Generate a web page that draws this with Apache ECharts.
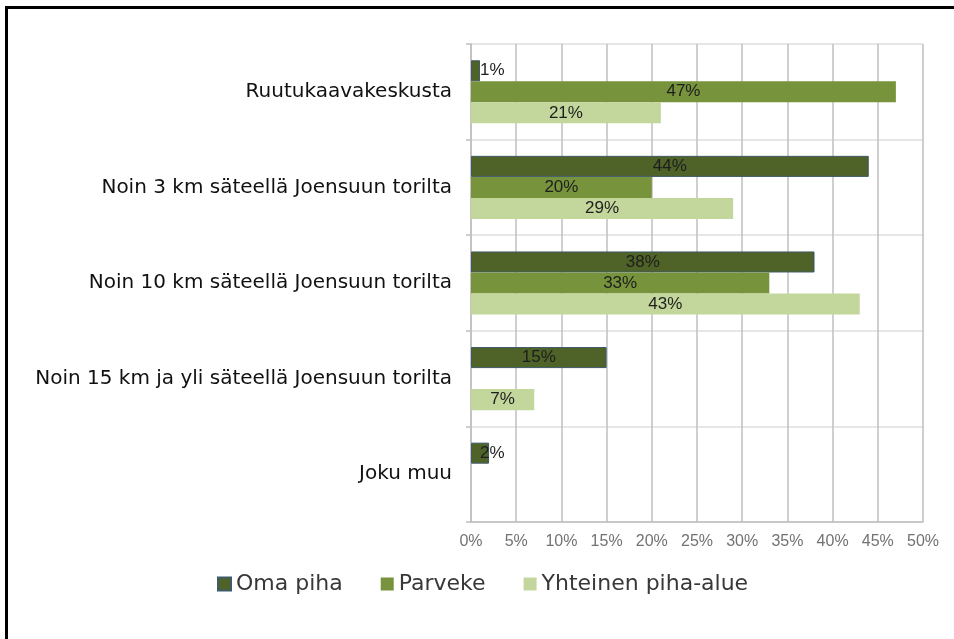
<!DOCTYPE html>
<html>
<head>
<meta charset="utf-8">
<script src="https://cdn.jsdelivr.net/npm/echarts@6/dist/echarts.min.js"></script>
<style>
  html, body { margin: 0; padding: 0; background: #fff; }
  #frame { position: absolute; left: 5px; top: 6px; width: 960px; height: 640px;
           border-left: 3px solid #000; border-top: 3px solid #000; }
  #chart { position: absolute; left: 0; top: 0; width: 954px; height: 639px; }
</style>
</head>
<body>
<div id="frame"></div>
<div id="chart"></div>
<script>
// alueet ylhäältä alas
const categories = [
  'Ruutukaavakeskusta',
  'Noin 3 km säteellä Joensuun torilta',
  'Noin 10 km säteellä Joensuun torilta',
  'Noin 15 km ja yli säteellä Joensuun torilta',
  'Joku muu'
];
const omaPiha = [1, 44, 38, 15, 2];
const parveke = [47, 20, 33, null, null];
const yhteinen = [21, 29, 43, 7, null];
const xTicks = [0, 5, 10, 15, 20, 25, 30, 35, 40, 45, 50];

const colors = ['#4f6228', '#77933c', '#c3d69b'];
const wideFont = 'DejaVu Sans, sans-serif';
const arial = 'Liberation Sans, Arial, sans-serif';

// pienet arvot: label alkaa palkin vasemmasta reunasta
function toData(arr) {
  return arr.map(v => {
    if (v == null) return '-';
    if (v < 5) return { value: v, label: { position: 'insideLeft', distance: 9 } };
    return v;
  });
}

function makeSeries(name, arr, idx) {
  return {
    name: name,
    type: 'bar',
    data: toData(arr),
    barGap: '0%',
    barCategoryGap: '34%',
    itemStyle: idx === 0 ? { color: colors[idx], borderColor: '#3f5a6a', borderWidth: 1 } : { color: colors[idx] },
    label: {
      show: true,
      position: 'inside',
      formatter: '{c}%',
      color: '#1e1e1e',
      fontFamily: arial,
      fontSize: 17
    }
  };
}

const chart = echarts.init(document.getElementById('chart'));
const option = {
  animation: false,
  grid: { left: 471, right: 31, top: 44, bottom: 117, containLabel: false },
  legend: {
    left: 212,
    top: 568,
    itemWidth: 13,
    itemHeight: 13,
    itemGap: 38,
    icon: 'rect',
    textStyle: { color: '#383838', fontSize: 22, fontFamily: wideFont },
    data: ['Oma piha', 'Parveke', 'Yhteinen piha-alue']
  },
  xAxis: {
    type: 'value',
    min: xTicks[0],
    max: xTicks[xTicks.length - 1],
    interval: 5,
    axisLine: { show: true, lineStyle: { color: '#bfbfbf', width: 1.5 } },
    axisTick: { show: false },
    splitLine: { show: true, lineStyle: { color: '#bfbfbf', width: 1.5 } },
    axisLabel: {
      formatter: '{value}%',
      color: '#727272',
      fontSize: 16,
      margin: 12,
      fontFamily: arial
    }
  },
  yAxis: {
    type: 'category',
    inverse: true,
    data: categories,
    axisLine: { show: true, lineStyle: { color: '#bfbfbf', width: 1.5 } },
    axisTick: { show: true, length: 5, lineStyle: { color: '#bfbfbf', width: 1.5 } },
    splitLine: { show: true, lineStyle: { color: '#dedede', width: 1.5 } },
    axisLabel: {
      color: '#111',
      fontSize: 20,
      margin: 19,
      fontFamily: wideFont
    }
  },
  series: [
    makeSeries('Oma piha', omaPiha, 0),
    makeSeries('Parveke', parveke, 1),
    makeSeries('Yhteinen piha-alue', yhteinen, 2)
  ]
};
chart.setOption(option);
</script>
</body>
</html>
